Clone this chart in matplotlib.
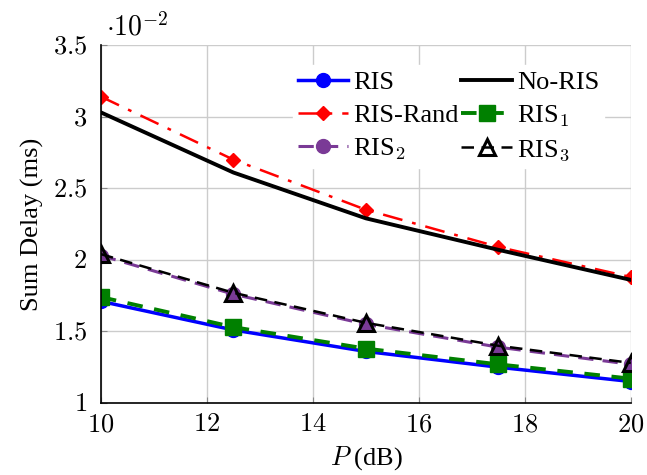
import numpy as np
import matplotlib
matplotlib.use("Agg")
import matplotlib.pyplot as plt

plt.rcParams['font.family'] = ['Liberation Serif', 'DejaVu Serif']
plt.rcParams['mathtext.fontset'] = 'cm'

power = [10, 12.5, 15, 17.5, 20]
ris = [1.71, 1.51, 1.36, 1.25, 1.15]
no_ris = [3.03, 2.61, 2.29, 2.07, 1.86]
ris_rand = [3.14, 2.70, 2.35, 2.09, 1.88]
ris1 = [1.74, 1.53, 1.38, 1.27, 1.17]
ris2 = [2.03, 1.76, 1.55, 1.39, 1.27]
ris3 = [2.04, 1.77, 1.56, 1.40, 1.28]

xticks = [10, 12, 14, 16, 18, 20]
yticks = [1, 1.5, 2, 2.5, 3, 3.5]

fig = plt.figure(figsize=(6.47, 4.75), dpi=100)
ax = fig.add_axes([0.156, 0.1516, 0.819, 0.7534])

h_ris, = ax.plot(power, ris, color='blue', lw=2.5, marker='o', ms=10, label='RIS')
h_rand, = ax.plot(power, ris_rand, color='red', lw=1.8, ls=(0, (8, 4, 1.5, 4)),
                  marker='D', ms=7, label='RIS-Rand')
h_ris2, = ax.plot(power, ris2, color='#7a3a96', lw=2.2, ls=(0, (5, 3)),
                  marker='o', ms=10, label=r'RIS$_2$')
h_no, = ax.plot(power, no_ris, color='black', lw=2.8, label='No-RIS')
h_ris1, = ax.plot(power, ris1, color='green', lw=2.8, ls=(0, (4, 3)),
                  marker='s', ms=11, label=r'RIS$_1$')
h_ris3, = ax.plot(power, ris3, color='black', lw=1.8, ls=(0, (5, 3)),
                  marker='^', ms=11, mfc='none', mec='black', mew=2.2, label=r'RIS$_3$')

ax.set_xlim(10, 20)
ax.set_ylim(1, 3.5)
ax.set_xticks(xticks)
ax.set_yticks(yticks)
ax.set_xticklabels(['$%d$' % t for t in xticks], fontsize=19)
ax.set_yticklabels(['$%g$' % t for t in yticks], fontsize=19)
ax.grid(True, color='#cccccc', lw=1)
ax.set_axisbelow(True)
ax.tick_params(axis='both', direction='in', length=4, color='#888888')
ax.tick_params(axis='x', pad=8)
ax.tick_params(axis='y', pad=10)
for s in ['top', 'right']:
    ax.spines[s].set_visible(False)
ax.spines['left'].set_linewidth(1.2)
ax.spines['bottom'].set_linewidth(1.2)

ax.set_xlabel('$P$ (dB)', fontsize=19, labelpad=6)
ax.set_ylabel('Sum Delay (ms)', fontsize=19, labelpad=6)
ax.text(0.01, 1.01, r'$\cdot 10^{-2}$', transform=ax.transAxes, fontsize=20, va='bottom')

leg = ax.legend(handles=[h_ris, h_rand, h_ris2, h_no, h_ris1, h_ris3], ncol=2,
                loc='upper right', bbox_to_anchor=(0.975, 0.98), fontsize=19,
                frameon=True, fancybox=False, edgecolor='white', framealpha=1,
                handlelength=1.9, columnspacing=0.1, handletextpad=0.2,
                borderpad=0.2, labelspacing=0.35)

fig.savefig('out.png', dpi=100)
